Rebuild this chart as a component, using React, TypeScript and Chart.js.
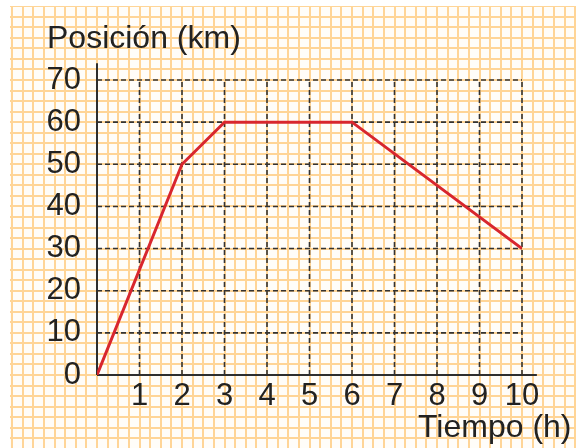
import React, { useEffect, useRef } from "react";
import { Chart, registerables } from "chart.js";

Chart.register(...registerables);

const tiempo = [0, 2, 3, 6, 10];
const posicion = [0, 50, 60, 60, 30];
const xGridValues = [1, 2, 3, 4, 5, 6, 7, 8, 9, 10];
const yGridValues = [10, 20, 30, 40, 50, 60, 70];
const yTitle = "Posición (km)";
const xTitle = "Tiempo (h)";

const FONT = "'Liberation Sans', Arial, Helvetica, sans-serif";

const paperPlugin = {
  id: "paper",
  beforeDraw(chart: any) {
    const { ctx, width, height } = chart;
    const xs = chart.scales.x;
    const ys = chart.scales.y;
    ctx.save();
    ctx.fillStyle = "#ffffff";
    ctx.fillRect(0, 0, width, height);
    ctx.beginPath();
    ctx.rect(10, 6, width - 10, height - 6);
    ctx.clip();
    ctx.fillStyle = "#fffdf9";
    ctx.fillRect(10, 6, width - 10, height - 6);
    ctx.strokeStyle = "#ffd597";
    ctx.lineWidth = 2;
    const xStep = 0.25;
    const yStep = 2.5;
    const xa = xs.getValueForPixel(0);
    const xb = xs.getValueForPixel(width);
    for (let k = Math.floor(xa / xStep); k <= Math.ceil(xb / xStep); k++) {
      const px = Math.round(xs.getPixelForValue(k * xStep));
      ctx.beginPath();
      ctx.moveTo(px, 0);
      ctx.lineTo(px, height);
      ctx.stroke();
    }
    const ya = ys.getValueForPixel(height);
    const yb = ys.getValueForPixel(0);
    for (let k = Math.floor(ya / yStep); k <= Math.ceil(yb / yStep); k++) {
      const py = Math.round(ys.getPixelForValue(k * yStep));
      ctx.beginPath();
      ctx.moveTo(0, py);
      ctx.lineTo(width, py);
      ctx.stroke();
    }
    ctx.restore();
  },
  beforeDatasetsDraw(chart: any) {
    const { ctx } = chart;
    const xs = chart.scales.x;
    const ys = chart.scales.y;
    const x0 = xs.getPixelForValue(xs.min);
    const x1 = xs.getPixelForValue(xs.max);
    const y0 = ys.getPixelForValue(ys.min);
    const y1 = ys.getPixelForValue(ys.max);
    ctx.save();
    ctx.strokeStyle = "#333333";
    ctx.lineWidth = 1.6;
    ctx.setLineDash([5, 3]);
    xGridValues.forEach((v) => {
      const px = xs.getPixelForValue(v);
      ctx.beginPath();
      ctx.moveTo(px, y0);
      ctx.lineTo(px, y1);
      ctx.stroke();
    });
    yGridValues.forEach((v) => {
      const py = ys.getPixelForValue(v);
      ctx.beginPath();
      ctx.moveTo(x0, py);
      ctx.lineTo(x1, py);
      ctx.stroke();
    });
    ctx.setLineDash([]);
    ctx.lineWidth = 2;
    ctx.strokeStyle = "#2e2e2e";
    ctx.beginPath();
    ctx.moveTo(x0, y0);
    ctx.lineTo(x0, ys.getPixelForValue(ys.max + 4));
    ctx.stroke();
    ctx.beginPath();
    ctx.moveTo(x0, y0);
    ctx.lineTo(xs.getPixelForValue(xs.max + 0.35), y0);
    ctx.stroke();
    ctx.restore();
  },
  afterDraw(chart: any) {
    const { ctx } = chart;
    ctx.save();
    ctx.fillStyle = "#222222";
    ctx.font = `32px ${FONT}`;
    ctx.textBaseline = "alphabetic";
    ctx.textAlign = "left";
    ctx.fillText(yTitle, 47, 48);
    ctx.fillText(xTitle, 418, 437);
    ctx.restore();
  },
};

export default function App() {
  const ref = useRef<HTMLCanvasElement>(null);
  useEffect(() => {
    if (!ref.current) return;
    const chart = new Chart(ref.current, {
      type: "line",
      data: {
        datasets: [
          {
            data: tiempo.map((t, i) => ({ x: t, y: posicion[i] })),
            borderColor: "#d8262e",
            borderWidth: 3,
            pointRadius: 0,
            tension: 0,
            fill: false,
          },
        ],
      },
      options: {
        animation: false,
        responsive: false,
        maintainAspectRatio: false,
        layout: { padding: { top: 80, right: 54, left: 0, bottom: 0 } },
        plugins: { legend: { display: false }, tooltip: { enabled: false } },
        scales: {
          x: {
            type: "linear",
            min: 0,
            max: 10,
            grid: { display: false, drawTicks: false },
            border: { display: false },
            afterFit: (s: any) => {
              s.height = 73;
            },
            ticks: {
              stepSize: 1,
              autoSkip: false,
              maxRotation: 0,
              padding: 3,
              color: "#222222",
              font: { family: FONT, size: 31 },
              callback: (v: any) => (v === 0 ? "" : String(v)),
            },
          },
          y: {
            type: "linear",
            min: 0,
            max: 70,
            grid: { display: false, drawTicks: false },
            border: { display: false },
            afterFit: (s: any) => {
              s.width = 97;
            },
            ticks: {
              stepSize: 10,
              autoSkip: false,
              padding: 16,
              color: "#222222",
              font: { family: FONT, size: 31 },
            },
          },
        },
      },
      plugins: [paperPlugin],
    });
    return () => chart.destroy();
  }, []);
  return (
    <div style={{ position: "fixed", left: 0, top: 0, width: 576, height: 448 }}>
      <canvas ref={ref} width={576} height={448} style={{ display: "block" }} />
    </div>
  );
}
